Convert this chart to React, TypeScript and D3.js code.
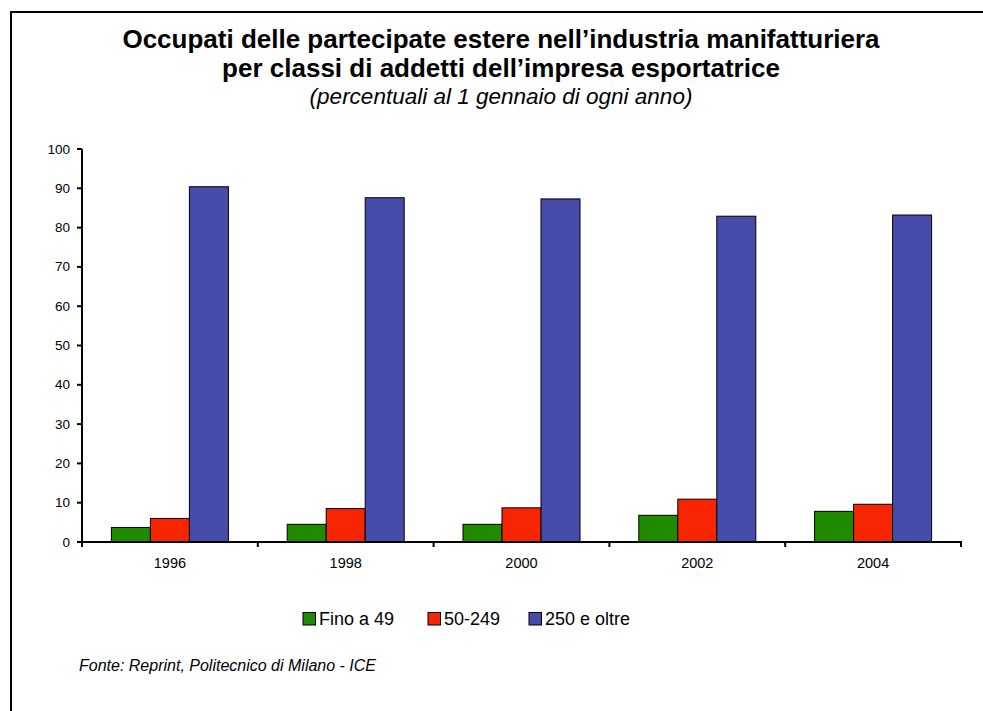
import React from "react";
import * as d3 from "d3";

const years = ["1996", "1998", "2000", "2002", "2004"];
const seriesNames = ["Fino a 49", "50-249", "250 e oltre"];
const fino49 = [3.7, 4.5, 4.5, 6.8, 7.8];
const s50_249 = [6.0, 8.5, 8.7, 10.9, 9.6];
const s250 = [90.4, 87.6, 87.3, 82.9, 83.2];
const yTicks = [0, 10, 20, 30, 40, 50, 60, 70, 80, 90, 100];
const colors = ["#218B00", "#F72500", "#474CAB"];

export default function App() {
  const W = 983, H = 711;
  const x0 = 82, x1 = 961, yTop = 149, yBot = 542;
  const x = d3.scaleBand<string>().domain(years).range([x0, x1]).paddingInner(0).paddingOuter(0);
  const y = d3.scaleLinear().domain([0, 100]).range([yBot, yTop]);
  const barW = 39;
  const series = [fino49, s50_249, s250];
  const groupW = barW * 3;
  const boundaries = [...years.map((yr) => x(yr) as number), x1];
  const legendX = [303, 428, 529];
  const cx = 501;

  return (
    <svg width={W} height={H} style={{ position: "absolute", left: 0, top: 0 }} fontFamily="Liberation Sans, Arial, sans-serif">
      <rect x={0} y={0} width={W} height={H} fill="#fff" />
      <rect x={11} y={12} width={W + 10} height={H + 10} fill="none" stroke="#000" strokeWidth={2} />
      <text x={cx} y={48} textAnchor="middle" fontSize={26} fontWeight="bold">
        Occupati delle partecipate estere nell’industria manifatturiera
      </text>
      <text x={cx} y={77} textAnchor="middle" fontSize={26} fontWeight="bold">
        per classi di addetti dell’impresa esportatrice
      </text>
      <text x={cx} y={104} textAnchor="middle" fontSize={22.5} fontStyle="italic">
        (percentuali al 1 gennaio di ogni anno)
      </text>

      {years.map((yr, i) => {
        const start = (x(yr) as number) + (x.bandwidth() - groupW) / 2;
        return series.map((s, k) => (
          <rect
            key={yr + k}
            x={start + k * barW}
            y={y(s[i])}
            width={barW}
            height={yBot - y(s[i])}
            fill={colors[k]}
            stroke="#000"
            strokeWidth={1}
          />
        ));
      })}

      <line x1={x0} x2={x0} y1={yTop} y2={yBot} stroke="#000" strokeWidth={2} />
      <line x1={x0} x2={x1 + 1} y1={yBot} y2={yBot} stroke="#000" strokeWidth={2} />
      {yTicks.map((t) => (
        <g key={t}>
          <line x1={x0 - 5} x2={x0} y1={y(t)} y2={y(t)} stroke="#000" strokeWidth={2} />
          <text x={x0 - 12} y={y(t) + 4.5} textAnchor="end" fontSize={13.5}>
            {t}
          </text>
        </g>
      ))}
      {boundaries.map((b, i) => (
        <line key={i} x1={b} x2={b} y1={yBot} y2={yBot + 5} stroke="#000" strokeWidth={2} />
      ))}
      {years.map((yr) => (
        <text key={yr} x={(x(yr) as number) + x.bandwidth() / 2} y={568} textAnchor="middle" fontSize={14.5}>
          {yr}
        </text>
      ))}

      {seriesNames.map((n, k) => (
        <g key={n}>
          <rect x={legendX[k]} y={612.5} width={12.5} height={12.5} fill={colors[k]} stroke="#000" strokeWidth={1} />
          <text x={legendX[k] + 16} y={625} fontSize={18}>
            {n}
          </text>
        </g>
      ))}

      <text x={79} y={671} fontSize={16} fontStyle="italic">
        Fonte: Reprint, Politecnico di Milano - ICE
      </text>
    </svg>
  );
}
